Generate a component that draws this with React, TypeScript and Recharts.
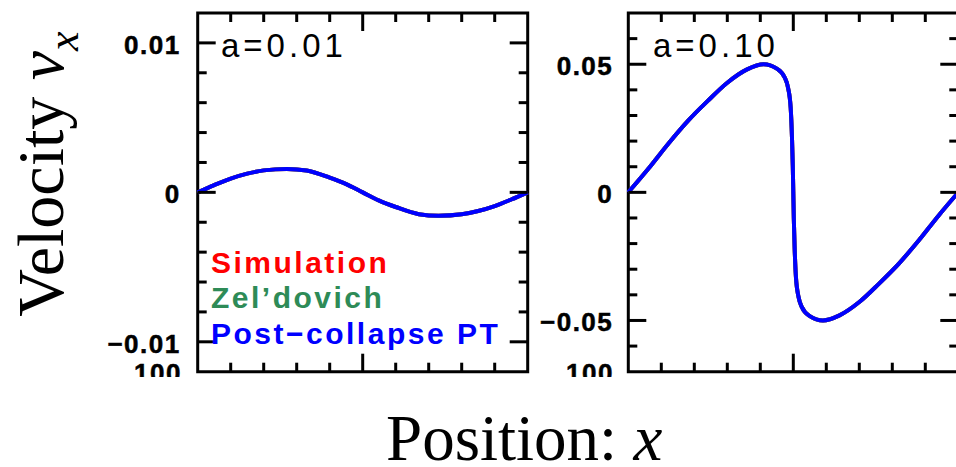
import { LineChart, Line, XAxis, YAxis, ReferenceArea } from "recharts";

document.body.style.margin = "0";

// panel a=0.01
const leftX = [0, 0.05, 0.1, 0.15, 0.2, 0.27, 0.33, 0.4, 0.45, 0.5, 0.55, 0.6, 0.67, 0.73, 0.8, 0.85, 0.9, 0.95, 1];
const leftV = [0, 0.00048, 0.00092, 0.00125, 0.00147, 0.00157, 0.00146, 0.00098, 0.00055, 0, -0.00055, -0.00098, -0.00146, -0.00157, -0.00147, -0.00125, -0.00092, -0.00048, 0];

// panel a=0.10
const rightX = [0, 0.06, 0.12, 0.18, 0.24, 0.3, 0.36, 0.41, 0.45, 0.474, 0.484, 0.492, 0.496, 0.4985, 0.5, 0.5015, 0.504, 0.508, 0.516, 0.526, 0.55, 0.59, 0.64, 0.7, 0.76, 0.82, 0.88, 0.94, 1];
const rightV = [0, 0.0091, 0.0188, 0.0278, 0.0356, 0.0428, 0.048, 0.05, 0.0483, 0.0448, 0.0409, 0.0331, 0.0214, 0.01, 0, -0.01, -0.0214, -0.0331, -0.0409, -0.0448, -0.0483, -0.05, -0.048, -0.0428, -0.0356, -0.0278, -0.0188, -0.0091, 0];

const xTicks = [0.1, 0.2, 0.3, 0.4, 0.5, 0.6, 0.7, 0.8, 0.9];
const xMajor = [0.5];

const leftYTicks = [-0.01, -0.008, -0.006, -0.004, -0.002, 0, 0.002, 0.004, 0.006, 0.008, 0.01];
const leftYLabels: [number, string][] = [[0.01, "0.01"], [0, "0"], [-0.01, "\u22120.01"]];
const rightYTicks = [-0.06, -0.05, -0.04, -0.03, -0.02, -0.01, 0, 0.01, 0.02, 0.03, 0.04, 0.05, 0.06];
const rightYLabels: [number, string][] = [[0.05, "0.05"], [0, "0"], [-0.05, "\u22120.05"]];

const legendItems: [string, string][] = [
  ["Simulation", "#ff0000"],
  ["Zel\u2019dovich", "#2e8b57"],
  ["Post\u2212collapse PT", "#0000ff"],
];

const SANS = "'Liberation Sans', Arial, sans-serif";
const SERIF = "'Liberation Serif', 'Times New Roman', serif";
const MINOR = 9;
const MAJOR = 18;
const YW = 40; // left axis width
const RW = 10; // right axis width
const XH = 10; // top/bottom axis height

const near = (a: number, b: number) => Math.abs(a - b) < 1e-9;

const makeYTick = (side: "left" | "right", labels: [number, string][], gap: number) => (props: any) => {
  const { x, y, payload } = props;
  const hit = labels.find((l) => near(l[0], payload.value));
  const len = hit ? MAJOR : MINOR;
  const dir = side === "left" ? 1 : -1;
  return (
    <g>
      <line x1={x} x2={x + dir * len} y1={y} y2={y} stroke="#000" strokeWidth={3} />
      {side === "left" && hit && (
        <text x={x - gap} y={y} dy={11} textAnchor="end" fontFamily={SANS} fontWeight="bold" fontSize={26} letterSpacing={1.5} fill="#000" stroke="#000" strokeWidth={0.5}>
          {hit[1]}
        </text>
      )}
    </g>
  );
};

const makeXTick = (side: "top" | "bottom") => (props: any) => {
  const { x, y, payload } = props;
  const len = xMajor.some((m) => near(m, payload.value)) ? MAJOR : MINOR;
  const dir = side === "top" ? 1 : -1;
  return <line x1={x} x2={x} y1={y} y2={y + dir * len} stroke="#000" strokeWidth={3} />;
};

type PanelProps = {
  xs: number[];
  vs: number[];
  left: number;
  width: number;
  margin: { top: number; right: number; bottom: number; left: number };
  yDomain: [number, number];
  yTicks: number[];
  yLabels: [number, string][];
  gap: number;
};

function Panel({ xs, vs, left, width, margin, yDomain, yTicks, yLabels, gap }: PanelProps) {
  const data = xs.map((x, i) => ({ x, v: vs[i] }));
  const m = {
    top: margin.top - XH,
    bottom: margin.bottom - XH,
    left: margin.left - YW,
    right: margin.right - RW,
  };
  return (
    <div style={{ position: "absolute", left, top: 0 }}>
      <LineChart width={width} height={390} data={data} margin={m}>
        <XAxis xAxisId="b" dataKey="x" type="number" domain={[0, 1]} ticks={xTicks} interval={0} orientation="bottom" height={XH} axisLine={false} tickLine={false} tickSize={0} tickMargin={0} tick={makeXTick("bottom")} />
        <XAxis xAxisId="t" dataKey="x" type="number" domain={[0, 1]} ticks={xTicks} interval={0} orientation="top" height={XH} axisLine={false} tickLine={false} tickSize={0} tickMargin={0} tick={makeXTick("top")} />
        <YAxis yAxisId="l" type="number" domain={yDomain} ticks={yTicks} interval={0} orientation="left" width={YW} axisLine={false} tickLine={false} tickSize={0} tickMargin={0} tick={makeYTick("left", yLabels, gap)} allowDataOverflow />
        <YAxis yAxisId="r" type="number" domain={yDomain} ticks={yTicks} interval={0} orientation="right" width={RW} axisLine={false} tickLine={false} tickSize={0} tickMargin={0} tick={makeYTick("right", yLabels, gap)} allowDataOverflow />
        <ReferenceArea xAxisId="b" yAxisId="l" x1={0} x2={1} y1={yDomain[0]} y2={yDomain[1]} fill="none" fillOpacity={0} stroke="#000" strokeWidth={3} ifOverflow="visible" />
        <Line xAxisId="b" yAxisId="l" dataKey="v" type="monotone" stroke="#ff0000" strokeWidth={4} dot={false} isAnimationActive={false} />
        <Line xAxisId="b" yAxisId="l" dataKey="v" type="monotone" stroke="#2e8b57" strokeWidth={4} dot={false} isAnimationActive={false} />
        <Line xAxisId="b" yAxisId="l" dataKey="v" type="monotone" stroke="#0000ff" strokeWidth={4} dot={false} isAnimationActive={false} />
      </LineChart>
    </div>
  );
}

export default function App() {
  return (
    <div style={{ position: "relative", width: 956, height: 467, overflow: "hidden", background: "#fff" }}>
      <Panel xs={leftX} vs={leftV} left={100} width={440} margin={{ top: 13, right: 12.3, bottom: 18.3, left: 97.7 }} yDomain={[-0.012, 0.012]} yTicks={leftYTicks} yLabels={leftYLabels} gap={17} />
      <Panel xs={rightX} vs={rightV} left={540} width={430} margin={{ top: 13, right: 11.7, bottom: 18.3, left: 88.3 }} yDomain={[-0.07, 0.07]} yTicks={rightYTicks} yLabels={rightYLabels} gap={15} />
      <svg width={956} height={467} style={{ position: "absolute", left: 0, top: 0, pointerEvents: "none" }}>
        <defs>
          <clipPath id="cut100">
            <rect x={0} y={355} width={956} height={22} />
          </clipPath>
        </defs>
        <g clipPath="url(#cut100)" fontFamily={SANS} fontWeight="bold" fontSize={26} letterSpacing={1.5} stroke="#000" strokeWidth={0.5}>
          <text x={182} y={382} textAnchor="end">100</text>
          <text x={614} y={382} textAnchor="end">100</text>
        </g>
        <text x={221} y={57} fontFamily={SANS} fontSize={33} letterSpacing={4}>a=0.01</text>
        <text x={653} y={57} fontFamily={SANS} fontSize={33} letterSpacing={4}>a=0.10</text>
        {legendItems.map(([label, color], i) => (
          <text key={label} x={211} y={272.5 + i * 35.7} fontFamily={SANS} fontWeight="bold" fontSize={30} letterSpacing={2.5} fill={color}>
            {label}
          </text>
        ))}
        <text transform="translate(63,174) rotate(-90)" textAnchor="middle" fontFamily={SERIF} fontSize={66}>
          Velocity <tspan fontStyle="italic">v</tspan>
          <tspan fontStyle="italic" fontSize={44} dy={15}>x</tspan>
        </text>
        <text x={386} y={460} fontFamily={SERIF} fontSize={65}>
          Position: <tspan fontStyle="italic">x</tspan>
        </text>
      </svg>
    </div>
  );
}
